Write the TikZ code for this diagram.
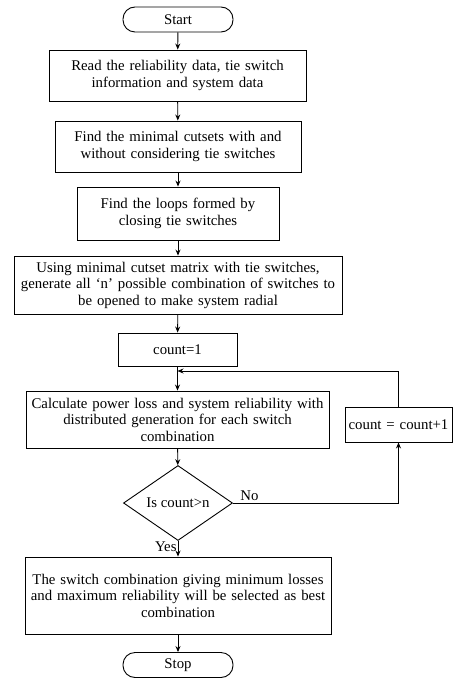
\documentclass[tikz,border=0pt]{standalone}
\usepackage{fontspec}
\setmainfont{Liberation Serif}
\usetikzlibrary{shapes.geometric,arrows.meta}
\begin{document}
\begin{tikzpicture}[x=1pt,y=-1pt,
  every node/.style={font=\fontsize{14.8}{16.5}\selectfont},
  proc/.style={draw,line width=0.9pt,rectangle,align=center,inner sep=1pt},
  term/.style={draw,line width=0.9pt,rectangle,rounded corners=12pt,minimum width=110pt,minimum height=25pt,inner sep=0pt},
  dec/.style={draw,line width=0.9pt,diamond,minimum width=109pt,minimum height=75pt,inner sep=0pt,aspect=1.45},
  arr/.style={-{Stealth[length=6pt,width=5pt]},line width=0.9pt},
  lbl/.style={font=\fontsize{14.8}{16}\selectfont}]
\useasboundingbox (0,0) rectangle (453,679);
\node[term] (start) at (178,19.5) {Start};
\node[proc,minimum width=257pt,minimum height=51pt,text width=255pt] (b1) at (177.5,75.5) {Read the reliability data, tie switch\\information and system data};
\node[proc,minimum width=246pt,minimum height=51pt,text width=244pt] (b2) at (178,146.5) {Find the minimal cutsets with and\\without considering tie switches};
\node[proc,minimum width=202pt,minimum height=53pt,text width=200pt] (b3) at (178,213.5) {Find the loops formed by\\closing tie switches};
\node[proc,minimum width=328pt,minimum height=58pt,text width=326pt] (b4) at (178,285) {Using minimal cutset matrix with tie switches,\\generate all ‘n’ possible combination of switches to\\be opened to make system radial};
\node[proc,minimum width=119pt,minimum height=33pt,text width=117pt] (c1) at (177.5,349.5) {count=1};
\node[proc,minimum width=303pt,minimum height=57pt,text width=301pt] (b5) at (177.5,419.5) {Calculate power loss and system reliability with\\distributed generation for each switch\\combination};
\node[proc,minimum width=107pt,minimum height=35pt,text width=105pt] (cnt) at (398.5,424.5) {count = count+1};
\node[dec] (d) at (178,503) {Is count>n};
\node[proc,minimum width=306pt,minimum height=77pt,text width=304pt] (b6) at (178,595.5) {The switch combination giving minimum losses\\and maximum reliability will be selected as best\\combination};
\node[term] (stop) at (178,665) {Stop};
\coordinate (join) at (177.5,371);
\draw[arr] (start) -- (b1);
\draw[arr] (b1) -- (b2);
\draw[arr] (b2) -- (b3);
\draw[arr] (b3) -- (b4);
\draw[arr] (b4) -- (c1);
\draw[arr] (c1) -- (b5);
\draw[arr] (cnt.north) |- (join);
\draw[arr] (b5) -- (d);
\draw[arr] (d.east) -| node[lbl,pos=0,anchor=south west,xshift=6pt,yshift=1pt,inner sep=1pt] {No} (cnt.south);
\draw[arr] (d.south) -- node[lbl,anchor=east,pos=0.4,inner sep=1pt] {Yes} (b6.north);
\draw[arr] (b6) -- (stop);
\end{tikzpicture}
\end{document}
